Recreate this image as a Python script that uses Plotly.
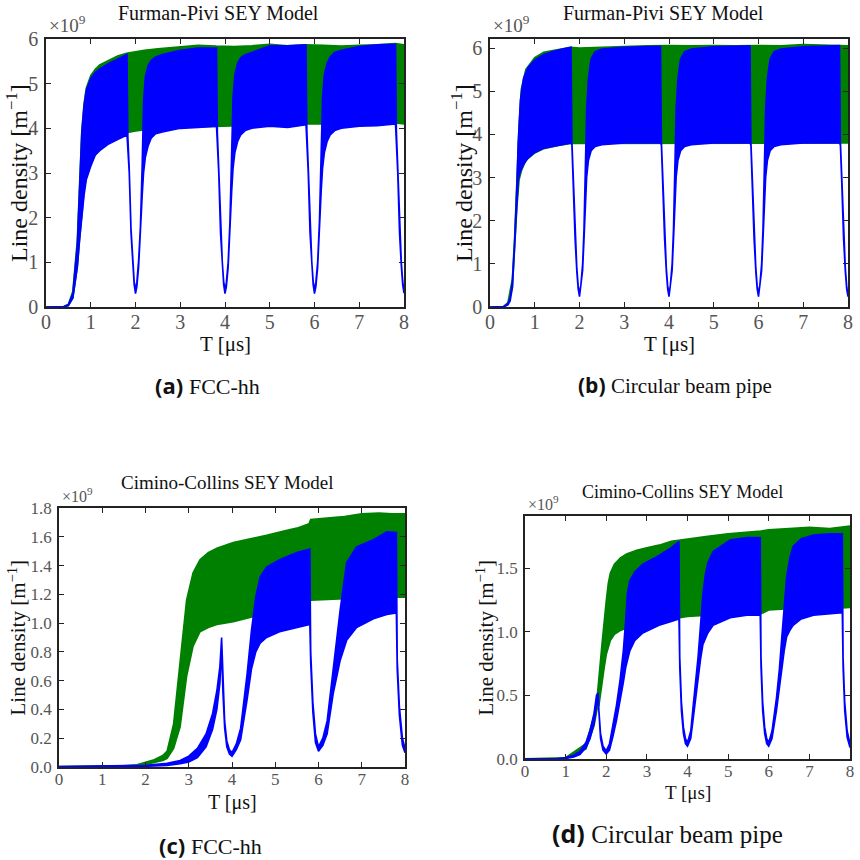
import plotly.graph_objects as go

GREEN = "#008000"
BLUE = "#0000ff"

# ---------------- data (values in units of 1e9 m^-1) ----------------
# Panel (a) FCC-hh, Furman-Pivi
a_green_t = [0, 0.4, 0.5, 0.6, 0.7, 0.75, 0.8, 0.85, 0.9, 1.0, 1.1, 1.2, 1.4, 1.6, 1.8, 2.0, 2.2, 2.5, 3.0, 3.4,
             3.8, 4.2, 4.6, 5.0, 5.4, 5.8, 6.2, 6.6, 7.0, 7.4, 7.8, 8.0]
a_green_hi = [0, 0.01, 0.06, 0.35, 1.5, 2.7, 3.95, 4.55, 4.9, 5.18, 5.32, 5.42, 5.52, 5.62, 5.68, 5.72, 5.75, 5.78,
              5.82, 5.86, 5.84, 5.83, 5.85, 5.88, 5.85, 5.87, 5.86, 5.84, 5.86, 5.87, 5.9, 5.87]
a_green_lo = [0, 0.0, 0.03, 0.2, 0.9, 1.5, 2.1, 2.6, 2.9, 3.2, 3.45, 3.55, 3.7, 3.8, 3.9, 3.94, 3.97, 4.0, 4.02,
              4.04, 4.05, 4.05, 4.07, 4.08, 4.03, 4.1, 4.1, 4.08, 4.1, 4.1, 4.12, 4.1]

a_blue_t = [0, 0.4, 0.5, 0.6, 0.7, 0.75, 0.8, 0.85, 0.9, 1.0, 1.1, 1.2, 1.4, 1.6, 1.81,
            1.83, 1.86, 1.9, 1.94, 1.97, 2.0, 2.03, 2.07, 2.11, 2.15, 2.18, 2.22, 2.28, 2.35, 2.45, 2.6, 3.0, 3.4, 3.81,
            3.83, 3.86, 3.9, 3.94, 3.97, 4.0, 4.03, 4.07, 4.11, 4.15, 4.18, 4.22, 4.28, 4.35, 4.45, 4.6, 5.0, 5.4, 5.81,
            5.83, 5.86, 5.9, 5.94, 5.97, 6.0, 6.03, 6.07, 6.11, 6.15, 6.18, 6.22, 6.28, 6.35, 6.45, 6.6, 7.0, 7.4, 7.81,
            7.83, 7.86, 7.9, 7.94, 7.97, 8.0]
a_blue_hi = [0, 0.01, 0.05, 0.3, 1.4, 2.6, 3.9, 4.5, 4.85, 5.12, 5.25, 5.33, 5.45, 5.55, 5.66,
             3.8, 3.1, 1.75, 1.0, 0.58, 0.37, 0.55, 1.05, 1.8, 3.2, 4.6, 5.15, 5.4, 5.52, 5.6, 5.65, 5.75, 5.8, 5.8,
             3.9, 3.1, 1.75, 1.0, 0.58, 0.37, 0.55, 1.0, 1.9, 3.3, 4.7, 5.2, 5.45, 5.58, 5.65, 5.7, 5.85, 5.85, 5.87,
             3.95, 3.1, 1.75, 1.0, 0.58, 0.37, 0.55, 1.0, 1.9, 3.3, 4.7, 5.2, 5.45, 5.6, 5.7, 5.75, 5.83, 5.87, 5.88,
             3.95, 3.1, 1.75, 1.0, 0.6, 0.38]
a_blue_lo = [0, 0.0, 0.03, 0.2, 0.9, 1.5, 2.05, 2.5, 2.85, 3.15, 3.4, 3.5, 3.65, 3.75, 3.85,
             3.7, 3.0, 1.65, 0.92, 0.5, 0.3, 0.45, 0.9, 1.55, 2.5, 3.0, 3.35, 3.6, 3.78, 3.88, 3.92, 4.0, 4.02, 4.05,
             3.8, 3.0, 1.65, 0.92, 0.5, 0.3, 0.45, 0.88, 1.6, 2.6, 3.1, 3.45, 3.7, 3.85, 3.95, 4.0, 4.05, 4.02, 4.08,
             3.85, 3.0, 1.65, 0.92, 0.5, 0.3, 0.45, 0.88, 1.6, 2.6, 3.1, 3.45, 3.7, 3.85, 3.95, 4.0, 4.05, 4.06, 4.1,
             3.85, 3.0, 1.65, 0.92, 0.5, 0.31]

# Panel (b) circular beam pipe, Furman-Pivi
b_green_t = [0, 0.3, 0.4, 0.5, 0.55, 0.6, 0.65, 0.7, 0.8, 1.0, 1.2, 1.5, 1.8, 2.0, 2.5, 3.0, 3.5, 4.0, 4.5, 5.0,
             5.5, 6.0, 6.5, 7.0, 7.5, 8.0]
b_green_hi = [0, 0.01, 0.1, 0.65, 1.6, 2.95, 4.2, 5.05, 5.5, 5.78, 5.9, 5.96, 6.02, 6.0, 6.02, 6.04, 6.05, 6.06,
              6.05, 6.06, 6.05, 6.06, 6.05, 6.08, 6.06, 6.05]
b_green_lo = [0, 0.0, 0.06, 0.45, 1.2, 2.3, 2.95, 3.15, 3.4, 3.57, 3.67, 3.74, 3.79, 3.79, 3.8, 3.8, 3.8, 3.8, 3.8,
              3.8, 3.8, 3.8, 3.8, 3.8, 3.8, 3.8]

b_blue_t = [0, 0.3, 0.4, 0.45, 0.5, 0.55, 0.6, 0.63, 0.68, 0.75, 0.85, 1.0, 1.2, 1.4, 1.6, 1.81,
            1.83, 1.86, 1.9, 1.94, 1.97, 2.0, 2.03, 2.07, 2.1, 2.13, 2.16, 2.2, 2.26, 2.35, 2.5, 3.0, 3.5, 3.81,
            3.83, 3.86, 3.9, 3.94, 3.97, 4.0, 4.03, 4.07, 4.1, 4.13, 4.16, 4.2, 4.26, 4.35, 4.5, 5.0, 5.5, 5.81,
            5.83, 5.86, 5.9, 5.94, 5.97, 6.0, 6.03, 6.07, 6.1, 6.13, 6.16, 6.2, 6.26, 6.35, 6.5, 7.0, 7.5, 7.81,
            7.83, 7.86, 7.9, 7.94, 7.97, 8.0]
b_blue_hi = [0, 0.01, 0.08, 0.2, 0.6, 1.5, 2.8, 3.8, 4.8, 5.3, 5.55, 5.72, 5.85, 5.92, 5.97, 6.02,
             3.85, 3.0, 1.7, 0.9, 0.5, 0.3, 0.5, 1.0, 1.8, 3.0, 4.6, 5.3, 5.75, 5.92, 5.98, 6.02, 6.03, 6.04,
             3.85, 3.0, 1.7, 0.9, 0.5, 0.3, 0.5, 1.0, 1.8, 3.0, 4.6, 5.3, 5.75, 5.92, 5.98, 6.03, 6.04, 6.05,
             3.85, 3.0, 1.7, 0.9, 0.5, 0.3, 0.5, 1.0, 1.8, 3.0, 4.6, 5.3, 5.75, 5.92, 5.98, 6.03, 6.05, 6.06,
             3.85, 3.0, 1.7, 0.9, 0.5, 0.3]
b_blue_lo = [0, 0.0, 0.05, 0.14, 0.45, 1.2, 2.3, 2.95, 3.15, 3.3, 3.45, 3.58, 3.68, 3.72, 3.76, 3.8,
             3.75, 2.9, 1.6, 0.82, 0.42, 0.24, 0.4, 0.85, 1.55, 2.4, 3.0, 3.4, 3.62, 3.72, 3.76, 3.8, 3.8, 3.8,
             3.75, 2.9, 1.6, 0.82, 0.42, 0.24, 0.4, 0.85, 1.55, 2.4, 3.0, 3.4, 3.62, 3.72, 3.76, 3.8, 3.8, 3.8,
             3.75, 2.9, 1.6, 0.82, 0.42, 0.24, 0.4, 0.85, 1.55, 2.4, 3.0, 3.4, 3.62, 3.72, 3.76, 3.8, 3.8, 3.8,
             3.75, 2.9, 1.6, 0.82, 0.42, 0.24]

# Panel (c) FCC-hh, Cimino-Collins
c_green_t = [0, 1.5, 1.8, 2.0, 2.2, 2.4, 2.5, 2.65, 2.8, 2.95, 3.1, 3.26, 3.45, 3.65, 4.03, 4.5, 4.8, 5.2, 5.5,
             5.78, 5.82, 6.2, 6.6, 7.0, 7.4, 7.7, 8.0]
c_green_hi = [0.003, 0.008, 0.015, 0.03, 0.05, 0.08, 0.11, 0.3, 0.74, 1.16, 1.35, 1.44, 1.49, 1.52, 1.56, 1.59,
              1.61, 1.64, 1.66, 1.69, 1.72, 1.73, 1.74, 1.76, 1.765, 1.76, 1.76]
c_green_lo = [0, 0.004, 0.008, 0.018, 0.03, 0.045, 0.06, 0.13, 0.28, 0.63, 0.84, 0.94, 0.97, 0.99, 1.01, 1.05,
              1.07, 1.1, 1.12, 1.15, 1.16, 1.165, 1.17, 1.18, 1.18, 1.18, 1.18]

c_blue_t = [0, 1.5, 2.0, 2.5, 2.8, 3.0, 3.2, 3.4, 3.55, 3.65, 3.72, 3.76,
            3.79, 3.83, 3.88, 3.94, 4.0, 4.1, 4.2, 4.3, 4.35, 4.45, 4.55, 4.65, 4.8, 5.1, 5.5, 5.8,
            5.82, 5.87, 5.93, 6.0, 6.1, 6.2, 6.34, 6.5, 6.65, 6.88, 7.27, 7.58, 7.8,
            7.82, 7.87, 7.94, 8.0]
c_blue_hi = [0.003, 0.006, 0.012, 0.025, 0.045, 0.075, 0.13, 0.23, 0.37, 0.53, 0.7, 0.9,
             0.6, 0.32, 0.18, 0.12, 0.1, 0.16, 0.27, 0.52, 0.65, 0.95, 1.18, 1.32, 1.39, 1.44, 1.49, 1.515,
             0.8, 0.45, 0.23, 0.14, 0.2, 0.32, 0.67, 1.09, 1.42, 1.53, 1.58, 1.635, 1.63,
             0.75, 0.42, 0.2, 0.13]
c_blue_lo = [0, 0.0, 0.004, 0.01, 0.022, 0.035, 0.065, 0.14, 0.26, 0.4, 0.58, 0.82,
             0.52, 0.27, 0.14, 0.09, 0.075, 0.12, 0.19, 0.38, 0.47, 0.68, 0.8, 0.86, 0.9, 0.94, 0.97, 0.99,
             0.72, 0.38, 0.17, 0.11, 0.15, 0.23, 0.51, 0.74, 0.88, 0.97, 1.03, 1.06, 1.07,
             0.68, 0.36, 0.15, 0.1]

# Panel (d) circular beam pipe, Cimino-Collins
d_green_t = [0, 1.0, 1.5, 1.7, 1.78, 1.82, 1.86, 1.9, 1.95, 2.0, 2.05, 2.1, 2.2, 2.35, 2.5, 2.75, 3.0, 3.3, 3.6,
             4.0, 4.5, 5.0, 5.5, 5.8, 6.0, 6.5, 7.0, 7.5, 8.0]
d_green_hi = [0.001, 0.01, 0.12, 0.34, 0.5, 0.62, 0.78, 0.92, 1.1, 1.24, 1.38, 1.46, 1.53, 1.58, 1.61, 1.64,
              1.66, 1.68, 1.71, 1.73, 1.75, 1.77, 1.78, 1.79, 1.8, 1.81, 1.82, 1.81, 1.83]
d_green_lo = [0, 0.004, 0.08, 0.26, 0.4, 0.42, 0.5, 0.6, 0.72, 0.82, 0.88, 0.93, 0.98, 1.01, 1.03, 1.05, 1.06,
              1.08, 1.1, 1.12, 1.13, 1.14, 1.14, 1.14, 1.17, 1.18, 1.18, 1.18, 1.19]

d_blue_t = [0, 0.8, 1.0, 1.2, 1.35, 1.5, 1.6, 1.7, 1.76, 1.8,
            1.82, 1.86, 1.92, 2.0, 2.08, 2.16, 2.25, 2.34, 2.42, 2.48, 2.52, 2.58, 2.7, 2.9, 3.3, 3.6, 3.79,
            3.81, 3.85, 3.9, 3.95, 4.0, 4.08, 4.14, 4.2, 4.26, 4.32, 4.38, 4.44, 4.5, 4.63, 5.05, 5.46, 5.79,
            5.81, 5.85, 5.9, 5.95, 6.0, 6.08, 6.19, 6.26, 6.32, 6.38, 6.44, 6.52, 6.6, 6.8, 7.1, 7.5, 7.81,
            7.83, 7.87, 7.93, 8.0]
d_blue_hi = [0.001, 0.004, 0.012, 0.03, 0.06, 0.13, 0.22, 0.36, 0.5, 0.52,
             0.38, 0.2, 0.1, 0.065, 0.12, 0.25, 0.42, 0.62, 0.85, 1.1, 1.3, 1.4, 1.47, 1.53, 1.6, 1.66, 1.71,
             0.8, 0.45, 0.25, 0.16, 0.13, 0.22, 0.42, 0.6, 0.8, 1.05, 1.3, 1.45, 1.54, 1.63, 1.72, 1.74, 1.74,
             0.8, 0.45, 0.25, 0.16, 0.13, 0.22, 0.48, 0.7, 0.95, 1.2, 1.43, 1.58, 1.67, 1.73, 1.76, 1.77, 1.77,
             0.8, 0.45, 0.22, 0.12]
d_blue_lo = [0, 0.0, 0.004, 0.015, 0.035, 0.09, 0.16, 0.28, 0.42, 0.47,
             0.33, 0.16, 0.07, 0.04, 0.07, 0.17, 0.3, 0.45, 0.6, 0.72, 0.78, 0.85, 0.93, 0.99, 1.05, 1.08, 1.1,
             0.72, 0.38, 0.2, 0.12, 0.1, 0.16, 0.33, 0.47, 0.63, 0.78, 0.9, 0.95, 0.99, 1.05, 1.11, 1.13, 1.13,
             0.72, 0.38, 0.2, 0.12, 0.1, 0.16, 0.38, 0.55, 0.7, 0.85, 0.96, 1.01, 1.05, 1.1, 1.13, 1.14, 1.15,
             0.72, 0.38, 0.17, 0.09]

titles = ["Furman-Pivi SEY Model", "Furman-Pivi SEY Model", "Cimino-Collins SEY Model", "Cimino-Collins SEY Model"]
captions = [("(a)", "FCC-hh"), ("(b)", "Circular beam pipe"), ("(c)", "FCC-hh"), ("(d)", "Circular beam pipe")]
x_ticks = [0, 1, 2, 3, 4, 5, 6, 7, 8]
y_ticks_ab = [0, 1, 2, 3, 4, 5, 6]
y_ticks_c = [0.0, 0.2, 0.4, 0.6, 0.8, 1.0, 1.2, 1.4, 1.6, 1.8]
y_ticks_d = [0.0, 0.5, 1.0, 1.5]
y_max = [6.0, 6.21, 1.8, 1.909]

# ---------------- layout geometry (pixels in 860x860) ----------------
W = H = 860
boxes = [(46, 404, 39, 307), (490, 848, 39, 307), (59, 405, 508, 767), (525, 850, 516, 759)]
tick_fs = [20, 20, 17, 17]
ytitle_fs = [24, 24, 21, 21]
xtitle_fs = [21, 21, 20, 19]
title_fs = [20, 20, 19, 18]
title_pos = [(218, 13), (663, 13), (227, 482), (682, 492)]
ytitle_x = [17, 462, 17, 485]
xtitle_y = [344, 344, 802, 792]
caption_pos = [(207, 385), (675, 385), (210, 845), (667, 833)]
caption_fs = [22, 21, 22, 25]

SERIF = "Liberation Serif"

fig = go.Figure()


def band(t, lo, hi, color, xa, ya):
    xs = list(t) + list(t)[::-1]
    ys = list(hi) + list(lo)[::-1]
    return go.Scatter(x=xs, y=ys, mode="lines", fill="toself", fillcolor=color,
                      line=dict(color=color, width=1.6), xaxis=xa, yaxis=ya,
                      showlegend=False, hoverinfo="skip")


series = [
    (a_green_t, a_green_lo, a_green_hi, a_blue_t, a_blue_lo, a_blue_hi),
    (b_green_t, b_green_lo, b_green_hi, b_blue_t, b_blue_lo, b_blue_hi),
    (c_green_t, c_green_lo, c_green_hi, c_blue_t, c_blue_lo, c_blue_hi),
    (d_green_t, d_green_lo, d_green_hi, d_blue_t, d_blue_lo, d_blue_hi),
]

annotations = []
for i, (gt, glo, ghi, bt, blo, bhi) in enumerate(series):
    n = "" if i == 0 else str(i + 1)
    xa, ya = "x" + n, "y" + n
    fig.add_trace(band(gt, glo, ghi, GREEN, xa, ya))
    fig.add_trace(band(bt, blo, bhi, BLUE, xa, ya))

    x0, x1, y0, y1 = boxes[i]
    if i < 2:
        yt, yfmt = y_ticks_ab, "d"
    elif i == 2:
        yt, yfmt = y_ticks_c, ".1f"
    else:
        yt, yfmt = y_ticks_d, ".1f"
    axis_common = dict(showline=True, linecolor="#222", linewidth=1.5, mirror="ticks",
                       ticks="inside", ticklen=5, tickcolor="#222", tickwidth=1,
                       showgrid=False, zeroline=False, automargin=False,
                       tickfont=dict(family=SERIF, size=tick_fs[i], color="#555"))
    fig.layout["xaxis" + n] = dict(domain=[x0 / W, x1 / W], anchor=ya, range=[0, 8], tickvals=x_ticks,
                                   ticklabelstandoff=-4, **axis_common)
    fig.layout["yaxis" + n] = dict(domain=[1 - y1 / H, 1 - y0 / H], anchor=xa, range=[0, y_max[i]],
                                   tickvals=yt, tickformat=yfmt, ticklabelstandoff=2, **axis_common)

    # axis titles
    annotations.append(dict(text="T [μs]", x=(x0 + x1) / 2 / W, y=1 - xtitle_y[i] / H,
                            xref="paper", yref="paper", showarrow=False, xanchor="center", yanchor="middle",
                            font=dict(family=SERIF, size=xtitle_fs[i], color="#111")))
    annotations.append(dict(text="Line density [m<sup>−1</sup>]", x=ytitle_x[i] / W, y=1 - (y0 + y1) / 2 / H,
                            xref="paper", yref="paper", showarrow=False, xanchor="center", yanchor="middle",
                            textangle=-90, font=dict(family=SERIF, size=ytitle_fs[i], color="#111")))
    # panel title
    tx, ty = title_pos[i]
    annotations.append(dict(text=titles[i], x=tx / W, y=1 - ty / H, xref="paper", yref="paper",
                            showarrow=False, xanchor="center", yanchor="middle",
                            font=dict(family=SERIF, size=title_fs[i], color="#111")))
    # offset text
    annotations.append(dict(text="×10<sup>9</sup>", x=(x0 + 1) / W, y=1 - (y0 - 1) / H, xref="paper", yref="paper",
                            showarrow=False, xanchor="left", yanchor="bottom",
                            font=dict(family=SERIF, size=tick_fs[i] - 1, color="#555")))
    # caption
    lab, rest = captions[i]
    cx, cy = caption_pos[i]
    annotations.append(dict(
        text="<b>" + lab + "</b> <span style='font-family:Liberation Serif'>" + rest + "</span>",
        x=cx / W, y=1 - cy / H, xref="paper", yref="paper", showarrow=False,
        xanchor="center", yanchor="middle",
        font=dict(family="Open Sans", size=caption_fs[i], color="#111")))

fig.update_layout(width=W, height=H, margin=dict(l=0, r=0, t=0, b=0),
                  paper_bgcolor="white", plot_bgcolor="white", annotations=annotations)

fig.write_html("out.html", config={"displayModeBar": False},
               post_script="document.body.style.margin='0';document.body.style.overflow='hidden';")
